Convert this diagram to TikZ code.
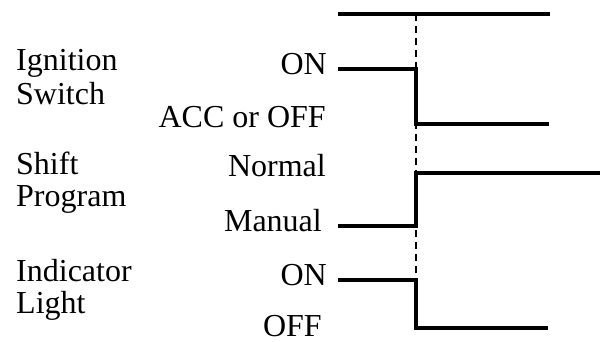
\documentclass[tikz,border=0pt]{standalone}
\usepackage{fontspec}
\setmainfont{Liberation Serif}
\begin{document}
\begin{tikzpicture}[x=1pt,y=-1pt,
  lbl/.style={inner sep=0pt,font=\fontsize{32}{34}\selectfont},
  leftlbl/.style={lbl,anchor=base west},
  rightlbl/.style={lbl,anchor=base east},
  sig/.style={line width=3.8pt,line join=miter},
  guide/.style={line width=2.2pt,dash pattern=on 7pt off 5pt}]
\useasboundingbox (0,0) rectangle (600,342);
% left labels
\node[leftlbl] (ign) at (16,71) {Ignition};
\node[leftlbl] (sw) at (16,105) {Switch};
\node[leftlbl] (shift) at (16,175) {Shift};
\node[leftlbl] (prog) at (16,206) {Program};
\node[leftlbl] (ind) at (16,281) {Indicator};
\node[leftlbl] (light) at (16,313) {Light};
% state labels
\node[rightlbl] (on1) at (327,75) {ON};
\node[rightlbl] (acc) at (326,128) {ACC or OFF};
\node[rightlbl] (norm) at (326,177) {Normal};
\node[rightlbl] (man) at (322,231) {Manual};
\node[rightlbl] (on2) at (327,285) {ON};
\node[rightlbl] (off) at (322,336) {OFF};
% coordinates
\coordinate (t0) at (338,14);
\coordinate (t1) at (550,14);
\coordinate (d0) at (416,14);
\coordinate (d1) at (416,330);
\coordinate (a0) at (338,69);
\coordinate (a1) at (416,69);
\coordinate (a2) at (416,124);
\coordinate (a3) at (549,124);
\coordinate (b0) at (338,226);
\coordinate (b1) at (416,226);
\coordinate (b2) at (416,173);
\coordinate (b3) at (600,173);
\coordinate (c0) at (338,280);
\coordinate (c1) at (416,280);
\coordinate (c2) at (416,328);
\coordinate (c3) at (548,328);
% guide line
\draw[guide] (d0) -- (d1);
% signals
\draw[sig] (t0) -- (t1);
\draw[sig] (a0) -- (a1) -- (a2) -- (a3);
\draw[sig] (b0) -- (b1) -- (b2) -- (b3);
\draw[sig] (c0) -- (c1) -- (c2) -- (c3);
\end{tikzpicture}
\end{document}
